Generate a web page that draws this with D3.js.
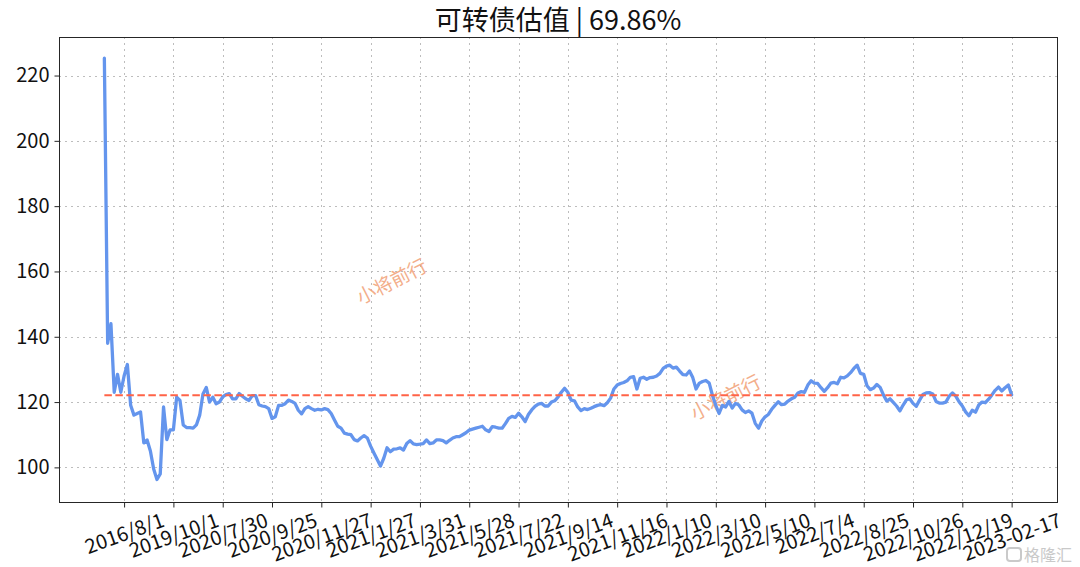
<!DOCTYPE html>
<html><head><meta charset="utf-8">
<script src="https://cdn.jsdelivr.net/npm/d3@7"></script>
<style>html,body{margin:0;padding:0;background:#fff;}svg{display:block;}</style>
</head><body>
<svg id="chart" width="1080" height="567"></svg>
<script>
const title = "可转债估值 | 69.86%";
const values = [
225.3, 138, 144, 123, 128.5, 123, 128, 131.5, 119, 116, 116.5,
117, 107.5, 108.4, 105, 99.5, 96.3, 98, 118.5, 108.5, 111.5,
111.5, 121.5, 120.5, 113, 112.2, 112.2, 112, 113, 116, 122.5,
124.5, 120, 121.5, 119.5, 120, 121.6, 122.3, 122.6, 121, 121,
122.6, 121.8, 121, 120.5, 122, 122, 119.2, 118.8, 118.6, 118,
115, 115.5, 119, 119, 119.5, 120.6, 120.2, 119.6, 117.5, 116.4,
118, 118.6, 118, 117.5, 117.8, 117.6, 118, 117.7, 116.5, 114.5,
112.6, 112, 110.5, 110.2, 110, 108.5, 108.1, 109, 109.7, 109,
106.5, 104.4, 102.4, 100.4, 102.8, 106, 104.8, 105.6, 105.7, 106,
105.3, 107.3, 108.2, 107.2, 107, 107.1, 107.3, 108.4, 107.3, 107.5,
108.4, 108.4, 108.2, 107.5, 108.3, 109, 109.4, 109.4, 110, 110.6,
111.4, 111.7, 112, 112.3, 112.6, 111.5, 111, 112.5, 112.3, 112,
112, 113.4, 115, 115.6, 115.3, 116.6, 115.5, 114, 116.2, 117.6,
118.7, 119.4, 119.6, 118.8, 118.8, 120, 120.4, 121.5, 123, 124.2,
123, 120.6, 120.4, 118.5, 117.4, 118, 117.7, 118.1, 118.6, 119,
119.2, 118.9, 119.8, 121.2, 124, 125.2, 125.7, 126, 126.5, 127.6,
127.8, 124, 127.3, 127.6, 127, 127.5, 127.6, 128, 128.8, 130.3,
131, 131.3, 130.4, 130.7, 129.5, 128.4, 128.3, 129.5, 127.5, 124,
125.8, 126.3, 126.6, 125.8, 122, 119, 116.5, 119, 118.5, 120.2,
118.2, 119.6, 119.1, 117.6, 116.8, 117.3, 116.6, 113.5, 112, 114.2,
115.5, 116.2, 117.8, 119, 120.1, 119.2, 119.4, 120.3, 121, 121.5,
122.8, 123.2, 123, 125.2, 126.5, 125.8, 125.7, 124.4, 123.3, 124.4,
125.8, 126, 125.6, 127.6, 127.4, 128, 129, 130.3, 131.3, 128.8,
128.5, 125, 123.8, 124.3, 125.4, 124.5, 122.2, 120.3, 121, 119.9,
118.8, 117.3, 119.1, 120.7, 121, 119.6, 118.7, 120.6, 122.3, 122.8,
122.9, 122.5, 120.2, 119.7, 119.7, 120, 121.8, 122.8, 121.8, 120.1,
118.8, 117, 115.8, 117.5, 116.9, 119.1, 120, 119.8, 120.9, 122.2,
123.6, 124.6, 123.4, 124.4, 125.2, 122.2
];
const meanValue = 122.1;
const tickLabels = ["2016/8/1","2019/10/1","2020/7/30","2020/9/25","2020/11/27","2021/1/27","2021/3/31","2021/5/28","2021/7/22","2021/9/14","2021/11/16","2022/1/10","2022/3/10","2022/5/10","2022/7/4","2022/8/25","2022/10/26","2022/12/19","2023-02-17"];
const tickIndex = [6,21,36,51,66,81,96,111,126,141,156,171,186,201,216,231,246,261,276];
const yTicks = [100,120,140,160,180,200,220];
const watermarkText = "小将前行";
const logoText = "格隆汇";

const FONT = '"Noto Sans CJK SC","Noto Sans",sans-serif';
const svg = d3.select("#chart").style("font-family", FONT);
const L = 59, R = 1057, T = 37, B = 502;
const n = values.length - 1;
const x = d3.scaleLinear().domain([-0.05 * n, 1.05 * n]).range([L, R]);
const y = d3.scaleLinear().domain([89.4, 231.8]).range([B, T]);

// grid
const grid = svg.append("g").attr("stroke", "#bdbdbd").attr("stroke-width", 1).attr("stroke-dasharray", "2,4");
grid.selectAll("line.h").data(yTicks).join("line").attr("class", "h")
  .attr("x1", L).attr("x2", R).attr("y1", d => Math.round(y(d)) + 0.5).attr("y2", d => Math.round(y(d)) + 0.5);
grid.selectAll("line.v").data(tickIndex).join("line").attr("class", "v")
  .attr("y1", T).attr("y2", B).attr("x1", d => Math.round(x(d)) + 0.5).attr("x2", d => Math.round(x(d)) + 0.5);

// watermarks
[[391, 280], [725, 396]].forEach(([wx, wy]) => {
  svg.append("text").text(watermarkText)
    .attr("transform", `translate(${wx},${wy}) rotate(-27)`)
    .attr("text-anchor", "middle").attr("dominant-baseline", "central")
    .attr("font-size", 19).attr("fill", "#f2a176").attr("opacity", 0.85);
});

// series line
svg.append("path").datum(values)
  .attr("d", d3.line().x((d, i) => x(i)).y(d => y(d)))
  .attr("fill", "none").attr("stroke", "#6495ED").attr("stroke-width", 3.3)
  .attr("stroke-linejoin", "round").attr("stroke-linecap", "round");

// mean line
svg.append("line")
  .attr("x1", x(0)).attr("x2", x(n)).attr("y1", y(meanValue)).attr("y2", y(meanValue))
  .attr("stroke", "#FF6347").attr("stroke-width", 2).attr("stroke-dasharray", "7.5,3.5");

// frame
svg.append("rect").attr("x", L + 0.5).attr("y", T + 0.5).attr("width", R - L).attr("height", B - T)
  .attr("fill", "none").attr("stroke", "#262626").attr("stroke-width", 1);

// y axis
const yAxis = svg.append("g").attr("transform", `translate(${L + 0.5},0)`)
  .call(d3.axisLeft(y).tickValues(yTicks).tickSize(5).tickPadding(5).tickFormat(d3.format("d")));
yAxis.select(".domain").remove();
yAxis.selectAll("line").attr("stroke", "#262626");
yAxis.selectAll("text").attr("font-size", 20).attr("fill", "#111").style("font-family", FONT);

// x axis
const xAxis = svg.append("g").attr("transform", `translate(0,${B + 0.5})`)
  .call(d3.axisBottom(x).tickValues(tickIndex).tickSize(5).tickFormat((d, i) => tickLabels[i]));
xAxis.select(".domain").remove();
xAxis.selectAll("line").attr("stroke", "#262626");
const ang = 20 * Math.PI / 180;
xAxis.selectAll("text")
  .attr("font-size", 20).attr("fill", "#111").style("font-family", FONT)
  .attr("text-anchor", "middle").attr("y", 0).attr("dy", "0.35em")
  .each(function () {
    const w = this.getComputedTextLength();
    const h = 19;
    const Hb = w * Math.sin(ang) + h * Math.cos(ang);
    d3.select(this).attr("transform", `translate(0,${8 + Hb / 2}) rotate(-20)`);
  });

// title
svg.append("text").text(title).attr("x", (L + R) / 2).attr("y", 30)
  .attr("text-anchor", "middle").attr("font-size", 27).attr("fill", "#111");

// logo watermark
const logo = svg.append("g").attr("opacity", 0.9);
logo.append("rect").attr("x", 1007).attr("y", 548).attr("width", 14).attr("height", 13).attr("rx", 3)
  .attr("fill", "none").attr("stroke", "#c4c4c4").attr("stroke-width", 2);
logo.append("text").text(logoText).attr("x", 1024).attr("y", 561)
  .attr("font-size", 16).attr("fill", "#c4c4c4");
</script>
</body></html>
